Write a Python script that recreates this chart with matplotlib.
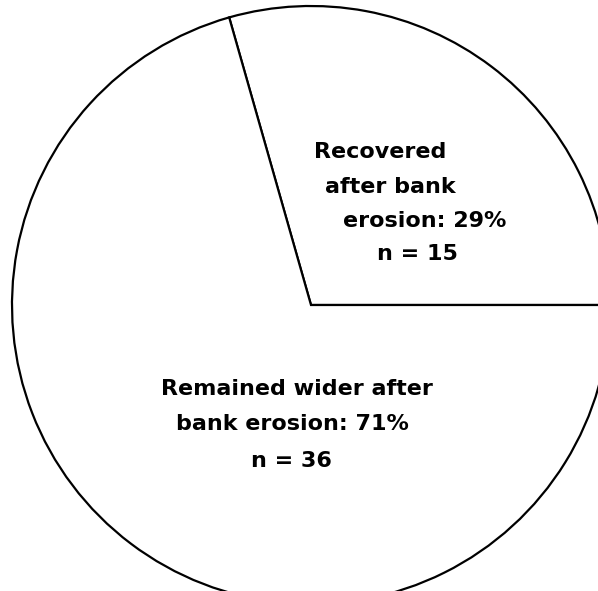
import matplotlib
matplotlib.use('Agg')
import matplotlib.pyplot as plt

# data
categories = ['Recovered after bank erosion', 'Remained wider after bank erosion']
counts = [15, 36]
label_lines = [
    ['Recovered', 'after bank', 'erosion: 29%', 'n = 15'],
    ['Remained wider after', 'bank erosion: 71%', 'n = 36'],
]

# pixel layout of the reference (centre 311,305 radius 299)
CX, CY, R = 311, 305, 299


def px(x, y):
    return (x - CX) / R, (CY - y) / R


fig = plt.figure(figsize=(5.98, 5.91), dpi=100)
ax = fig.add_axes([0, 0, 1, 1])

ax.pie(counts, startangle=0, counterclock=True, radius=1.0,
       colors=['white', 'white'],
       wedgeprops=dict(edgecolor='black', linewidth=1.6))

line_pos = [
    [(380, 158), (390, 193), (425, 227), (417, 260)],
    [(297, 395), (292, 430), (291, 467)],
]
for lines, pos in zip(label_lines, line_pos):
    for txt, (x, y) in zip(lines, pos):
        tx, ty = px(x, y)
        ax.text(tx, ty, txt, ha='center', va='baseline', fontsize=16,
                fontweight='semibold', family='DejaVu Sans', color='black')

x0, _ = px(0, 0)
x1, _ = px(598, 0)
_, y0 = px(0, 591)
_, y1 = px(0, 0)
ax.set_xlim(x0, x1)
ax.set_ylim(y0, y1)
ax.set_aspect('auto')
ax.axis('off')

fig.savefig('out.png', dpi=100, facecolor='white')
plt.close(fig)
